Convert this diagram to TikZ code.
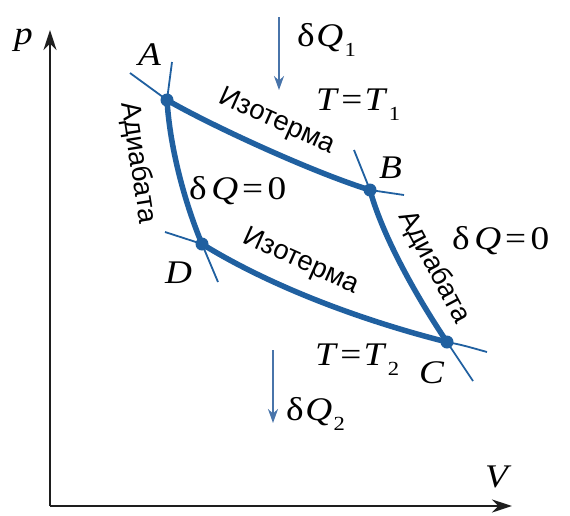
\documentclass[tikz,border=0pt]{standalone}
\usepackage{fontspec}
\setsansfont{Liberation Sans}
\newfontfamily\tms{Liberation Serif}
\usetikzlibrary{arrows.meta}
\definecolor{curveblue}{RGB}{32,96,160}
\definecolor{arrowblue}{RGB}{72,116,170}
\definecolor{axisgray}{RGB}{30,30,30}
\newcommand{\lowidx}[1]{\kern1pt\raisebox{-10pt}{\fontsize{20}{20}\selectfont #1}}
\newcommand{\wideml}[1]{\scalebox{1.13}[1]{#1}}
\begin{document}
\begin{tikzpicture}[x=1pt,y=-1pt,
  thickline/.style={draw=curveblue, line width=5.5pt, line cap=round},
  thinline/.style={draw=curveblue, line width=1.8pt},
  dot/.style={fill=curveblue},
  mathlab/.style={font=\tms\fontsize{33}{33}\selectfont, inner sep=0pt, anchor=base west},
  cyr/.style={font=\sffamily\fontsize{27.5}{27.5}\selectfont, inner sep=0pt},
  heat/.style={draw=arrowblue, line width=2pt, -{Stealth[length=14pt,width=10pt]}},
  axis/.style={draw=axisgray, line width=2.6pt, -{Stealth[length=20pt,width=13pt]}}
]
\useasboundingbox (0,0) rectangle (570,515);
\fill[white] (0,0) rectangle (570,515);

% axes
\coordinate (O) at (50,506);
\coordinate (ptip) at (50,30);
\coordinate (vtip) at (512,506);
\draw[axis] (O) -- (ptip);
\draw[axis] (O) -- (vtip);
\node[mathlab] (plab) at (14,44) {\wideml{\textit{p}}};
\node[mathlab] (vlab) at (485,487) {\wideml{\textit{V}}};

% points
\coordinate (A) at (167,100);
\coordinate (B) at (370,190);
\coordinate (C) at (447,342);
\coordinate (D) at (202,244);

% thin extensions
\coordinate (a1) at (130,73);
\coordinate (a2) at (172,62);
\coordinate (b1) at (404,195);
\coordinate (b2) at (354,150);
\coordinate (c1) at (487,352);
\coordinate (c2) at (473,381);
\coordinate (d1) at (165,232);
\coordinate (d2) at (218,282);
\draw[thinline] (a1) -- (A);
\draw[thinline] (a2) -- (A);
\draw[thinline] (B) -- (b1);
\draw[thinline] (b2) -- (B);
\draw[thinline] (C) .. controls (462,345) .. (c1);
\draw[thinline] (C) -- (c2);
\draw[thinline] (d1) -- (D);
\draw[thinline] (D) -- (d2);

% thick cycle
\draw[thickline] (A) .. controls (210,125) and (313,172.5) .. (B);
\draw[thickline] (B) .. controls (383,238) and (419,300.5) .. (C);
\draw[thickline] (D) .. controls (270,286) and (360,320) .. (C);
\draw[thickline] (A) .. controls (170,150) and (186,206) .. (D);

\fill[dot] (A) circle (6.5pt);
\fill[dot] (B) circle (6.5pt);
\fill[dot] (C) circle (6.5pt);
\fill[dot] (D) circle (6.5pt);

% point labels
\node[mathlab] (Alab) at (138,65) {\wideml{\textit{A}}};
\node[mathlab] (Blab) at (379,178) {\wideml{\textit{B}}};
\node[mathlab] (Clab) at (419,383) {\wideml{\textit{C}}};
\node[mathlab] (Dlab) at (165,283) {\wideml{\textit{D}}};

% curve labels
\node[cyr, rotate=-24] (iso1) at (277,122) {Изотерма};
\node[cyr, rotate=-24] (iso2) at (301,262) {Изотерма};
\node[cyr, rotate=-81] (adi1) at (138,163) {Адиабата};
\node[cyr, rotate=-62] (adi2) at (434,267) {Адиабата};

% heat labels
\coordinate (q1s) at (279,17);
\coordinate (q1e) at (279,90);
\coordinate (q2s) at (273,350);
\coordinate (q2e) at (273,423);
\draw[heat] (q1s) -- (q1e);
\draw[heat] (q2s) -- (q2e);
\node[mathlab] (dq1) at (297,46) {\wideml{δ\kern1.5pt\textit{Q}\lowidx{1}}};
\node[mathlab] (dq2) at (286,420) {\wideml{δ\kern1.5pt\textit{Q}\lowidx{2}}};
\node[mathlab] (t1) at (316,110) {\wideml{\textit{T}\kern2pt=\kern2pt\textit{T}\lowidx{1}}};
\node[mathlab] (t2) at (315,365) {\wideml{\textit{T}\kern2pt=\kern2pt\textit{T}\lowidx{2}}};
\node[mathlab] (dq0a) at (189,199) {\wideml{δ\kern4pt\textit{Q}\kern3.5pt=\kern4pt0}};
\node[mathlab] (dq0b) at (452,249) {\wideml{δ\kern4pt\textit{Q}\kern3.5pt=\kern4pt0}};
\end{tikzpicture}
\end{document}
